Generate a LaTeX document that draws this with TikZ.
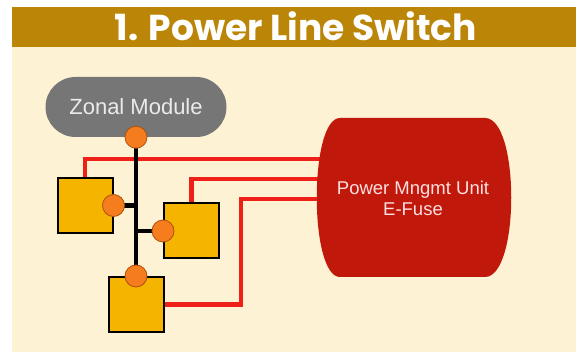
\documentclass[tikz,border=0pt]{standalone}
\usepackage{fontspec}
\setmainfont{Liberation Sans}
\newfontfamily\titlefont{Poppins}
\definecolor{HeadGold}{RGB}{187,134,8}
\definecolor{Cream}{RGB}{254,242,212}
\definecolor{PillGray}{RGB}{118,118,118}
\definecolor{PinOrange}{RGB}{245,125,30}
\definecolor{PinEdge}{RGB}{175,80,15}
\definecolor{BoxYellow}{RGB}{244,180,0}
\definecolor{LineRed}{RGB}{238,32,24}
\definecolor{PmuRed}{RGB}{192,24,10}
\usetikzlibrary{positioning,calc}

\begin{document}
\begin{tikzpicture}[x=1pt,y=-1pt,
    ecu/.style={rectangle, draw=black, line width=2pt, fill=BoxYellow, minimum size=55pt, inner sep=0pt},
    pin/.style={circle, draw=PinEdge, line width=0.8pt, fill=PinOrange, minimum size=22pt, inner sep=0pt},
    power/.style={line width=4.5pt, LineRed},
    bus/.style={line width=4.5pt, black}]
      \useasboundingbox (0,0) rectangle (576,352);
      \fill[white] (0,0) rectangle (576,352);
      \fill[Cream] (12,47) rectangle (576,352);
      \fill[HeadGold] (12,7) rectangle (576,47);
      \node[text=white, font=\titlefont\bfseries\fontsize{36}{38}\selectfont] (title) at (296,26) {1. Power Line Switch};
      \node[rectangle, rounded corners=30pt, fill=PillGray, minimum width=181pt, minimum height=60pt, text=white!92!black, font=\fontsize{22}{24}\selectfont] (zm) at (136,107) {Zonal Module};
      \node[ecu] (b1) at (85,205.5) {};
      \node[ecu] (b2) at (191.5,231) {};
      \node[ecu] (b3) at (136,304.5) {};
      \coordinate (pmuin) at (335,197);
      \draw[power] (b1.north) |- (pmuin |- 0,159);
      \draw[power] (b2.north) |- (pmuin |- 0,179);
      \coordinate (bend) at (241,199);
      \draw[power] (b3.east) -| (bend) -- (bend -| pmuin);
      \fill[PmuRed] (340,118) -- (485,118) .. controls (520,118) and (520,277) .. (485,277) -- (340,277) .. controls (309,277) and (309,118) .. (340,118) -- cycle;
      \node[align=center, text=white!88!red, font=\fontsize{18.5}{21}\selectfont] (pmu) at (413,198) {Power Mngmt Unit\\E-Fuse};
      \draw[bus] (zm.south) -- (b3.north);
      \draw[bus] (b1.east) -- (b1.east -| zm.south);
      \draw[bus] (b2.west) -- (b2.west -| zm.south);
      \node[pin] (p0) at (zm.south) {};
      \node[pin] (p1) at (b1.east) {};
      \node[pin] (p2) at (b2.west) {};
      \node[pin] (p3) at (b3.north) {};
    \end{tikzpicture}
\end{document}
